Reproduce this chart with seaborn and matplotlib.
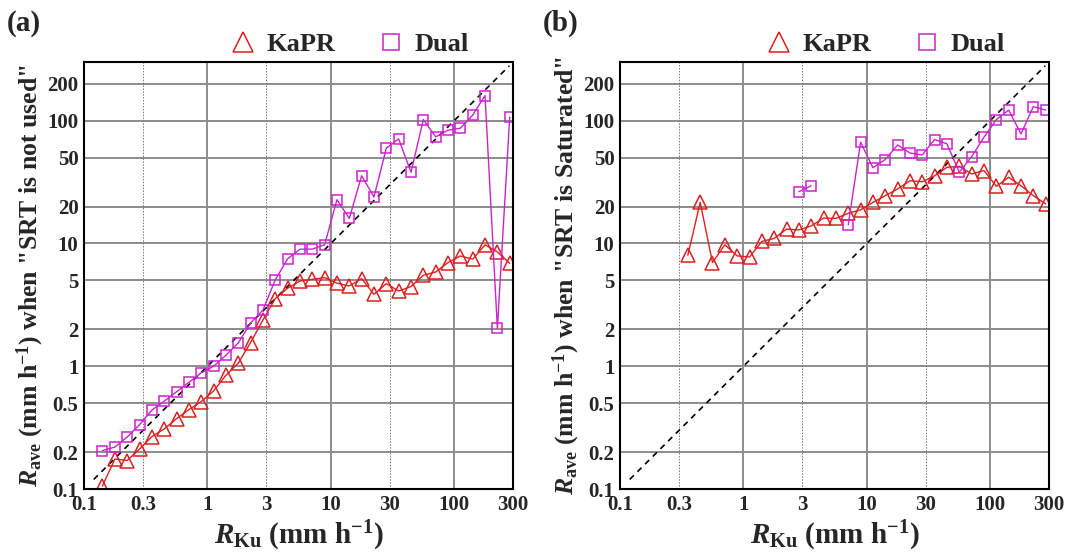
import numpy as np
import pandas as pd
import matplotlib.pyplot as plt
import seaborn as sns
from matplotlib.lines import Line2D

# bin centres of R_Ku (mm/h)
r_ku = [0.141, 0.178, 0.224, 0.282, 0.355, 0.447, 0.562, 0.708, 0.891, 1.122,
        1.413, 1.778, 2.239, 2.818, 3.548, 4.467, 5.623, 7.079, 8.913, 11.22,
        14.13, 17.78, 22.39, 28.18, 35.48, 44.67, 56.23, 70.79, 89.13, 112.2,
        141.3, 177.8, 223.9, 281.8]

# (a) SRT is not used
kapr_not_used = [0.106, 0.176, 0.171, 0.212, 0.268, 0.309, 0.375, 0.444, 0.516, 0.63,
                 0.845, 1.06, 1.56, 2.38, 3.56, 4.32, 4.95, 5.11, 5.28, 4.75,
                 4.51, 5.18, 3.86, 4.71, 4.1, 4.46, 5.51, 5.86, 7.0, 7.92,
                 7.45, 9.75, 8.53, 6.9]
dual_not_used = [0.206, 0.22, 0.266, 0.335, 0.44, 0.52, 0.62, 0.74, 0.885, 1.0,
                 1.23, 1.55, 2.25, 2.87, 5.05, 7.5, 8.98, 9.0, 9.75, 22.7,
                 16.0, 35.6, 23.9, 59.7, 71.0, 38.0, 102.0, 73.8, 83.6, 86.8,
                 111.0, 160.0, 2.04, 107.0]

# (b) SRT is saturated
r_ku_sat = [0.355, 0.447, 0.562, 0.708, 0.891, 1.122, 1.413, 1.778, 2.239, 2.818,
            3.548, 4.467, 5.623, 7.079, 8.913, 11.22, 14.13, 17.78, 22.39, 28.18,
            35.48, 44.67, 56.23, 70.79, 89.13, 112.2, 141.3, 177.8, 223.9, 281.8]
kapr_sat = [8.03, 21.6, 7.0, 9.75, 7.92, 7.76, 10.4, 11.0, 13.1, 12.9,
            13.9, 16.1, 16.0, 17.6, 18.8, 21.6, 24.5, 27.8, 32.4, 31.8,
            35.6, 41.7, 42.5, 36.8, 39.2, 29.2, 34.6, 29.5, 24.5, 21.0]
dual_sat = [np.nan, np.nan, np.nan, np.nan, np.nan, np.nan, np.nan, np.nan, np.nan, 26.4,
            29.5, np.nan, np.nan, 14.2, 66.7, 41.4, 48.2, 63.4, 54.5, 52.6,
            70.2, 64.7, 38.0, 50.9, 73.3, 102.0, 122.0, 78.0, 130.0, 122.0]

one_to_one = [0.12, 280]
x_ticks = [0.1, 0.3, 1, 3, 10, 30, 100, 300]
x_labels = ['0.1', '0.3', '1', '3', '10', '30', '100', '300']
y_ticks = [0.1, 0.2, 0.5, 1, 2, 5, 10, 20, 50, 100, 200]
y_labels = ['0.1', '0.2', '0.5', '1', '2', '5', '10', '20', '50', '100', '200']

KAPR_C = '#dd2020'
DUAL_C = '#cc22cc'

sns.set_style('white')
plt.rcParams['font.family'] = ['Liberation Serif', 'DejaVu Serif']
plt.rcParams['font.weight'] = 'bold'
plt.rcParams['axes.labelweight'] = 'bold'
plt.rcParams['mathtext.fontset'] = 'custom'
plt.rcParams['mathtext.rm'] = 'Liberation Serif:bold'
plt.rcParams['mathtext.it'] = 'Liberation Serif:bold:italic'
plt.rcParams['mathtext.bf'] = 'Liberation Serif:bold'


def draw_series(ax, x, y, marker, color, ms):
    df = pd.DataFrame({'x': x, 'y': y})
    df['seg'] = df['y'].isna().cumsum()
    df = df.dropna()
    sns.lineplot(data=df, x='x', y='y', units='seg', estimator=None, ax=ax,
                 color=color, linewidth=1.0, marker=marker, markersize=ms,
                 markerfacecolor='none', markeredgecolor=color, markeredgewidth=1.1)


def style_panel(ax, ylabel, tag):
    ax.set_xscale('log')
    ax.set_yscale('log')
    ax.set_xlim(0.1, 300)
    ax.set_ylim(0.1, 300)
    for v in y_ticks:
        ax.axhline(v, color='#8c8c8c', linewidth=1.4, zorder=0)
    for v in [1, 10, 100]:
        ax.axvline(v, color='#8c8c8c', linewidth=1.4, zorder=0)
    for v in [0.3, 3, 30]:
        ax.axvline(v, color='#777777', linewidth=0.7, linestyle=(0, (1.5, 1.5)), zorder=0)
    ax.set_xticks(x_ticks)
    ax.set_xticklabels(x_labels)
    ax.set_yticks(y_ticks)
    ax.set_yticklabels(y_labels)
    ax.minorticks_off()
    ax.tick_params(length=0, labelsize=15, pad=4)
    for s in ax.spines.values():
        s.set_linewidth(1.5)
        s.set_color('black')
    ax.set_xlabel(r'$R_{\rm Ku}$ (mm h$^{-1}$)', fontsize=21, labelpad=3)
    ax.set_ylabel(r'$R_{\rm ave}$ (mm h$^{-1}$) when ' + ylabel, fontsize=18.5, labelpad=1)
    handles = [Line2D([], [], linestyle='none', marker='^', markersize=15,
                      markerfacecolor='none', markeredgecolor=KAPR_C, markeredgewidth=1.1),
               Line2D([], [], linestyle='none', marker='s', markersize=11,
                      markerfacecolor='none', markeredgecolor=DUAL_C, markeredgewidth=1.1)]
    ax.legend(handles, ['KaPR', 'Dual'], loc='lower left', bbox_to_anchor=(0.318, 0.995),
              ncol=2, frameon=False, fontsize=19, borderpad=0.1, borderaxespad=0.2,
              handlelength=1.1, handletextpad=0.35, columnspacing=1.55)
    ax.text(-0.18, 1.09, tag, transform=ax.transAxes, fontsize=21,
            fontweight='bold', ha='left', va='center')


fig = plt.figure(figsize=(10.7, 5.59), dpi=100)
ax1 = fig.add_axes([0.0785, 0.125, 0.401, 0.764])
ax2 = fig.add_axes([0.5794, 0.125, 0.401, 0.764])

for ax in (ax1, ax2):
    sns.lineplot(x=one_to_one, y=one_to_one, ax=ax, color='black', linewidth=1.2,
                 linestyle=(0, (3.5, 3)))

draw_series(ax1, r_ku, kapr_not_used, '^', KAPR_C, 10)
draw_series(ax1, r_ku, dual_not_used, 's', DUAL_C, 7.5)
draw_series(ax2, r_ku_sat, kapr_sat, '^', KAPR_C, 10)
draw_series(ax2, r_ku_sat, dual_sat, 's', DUAL_C, 7.5)

style_panel(ax1, '"SRT is not used"', '(a)')
style_panel(ax2, '"SRT is Saturated"', '(b)')

fig.savefig('out.png', dpi=100)
plt.close(fig)
